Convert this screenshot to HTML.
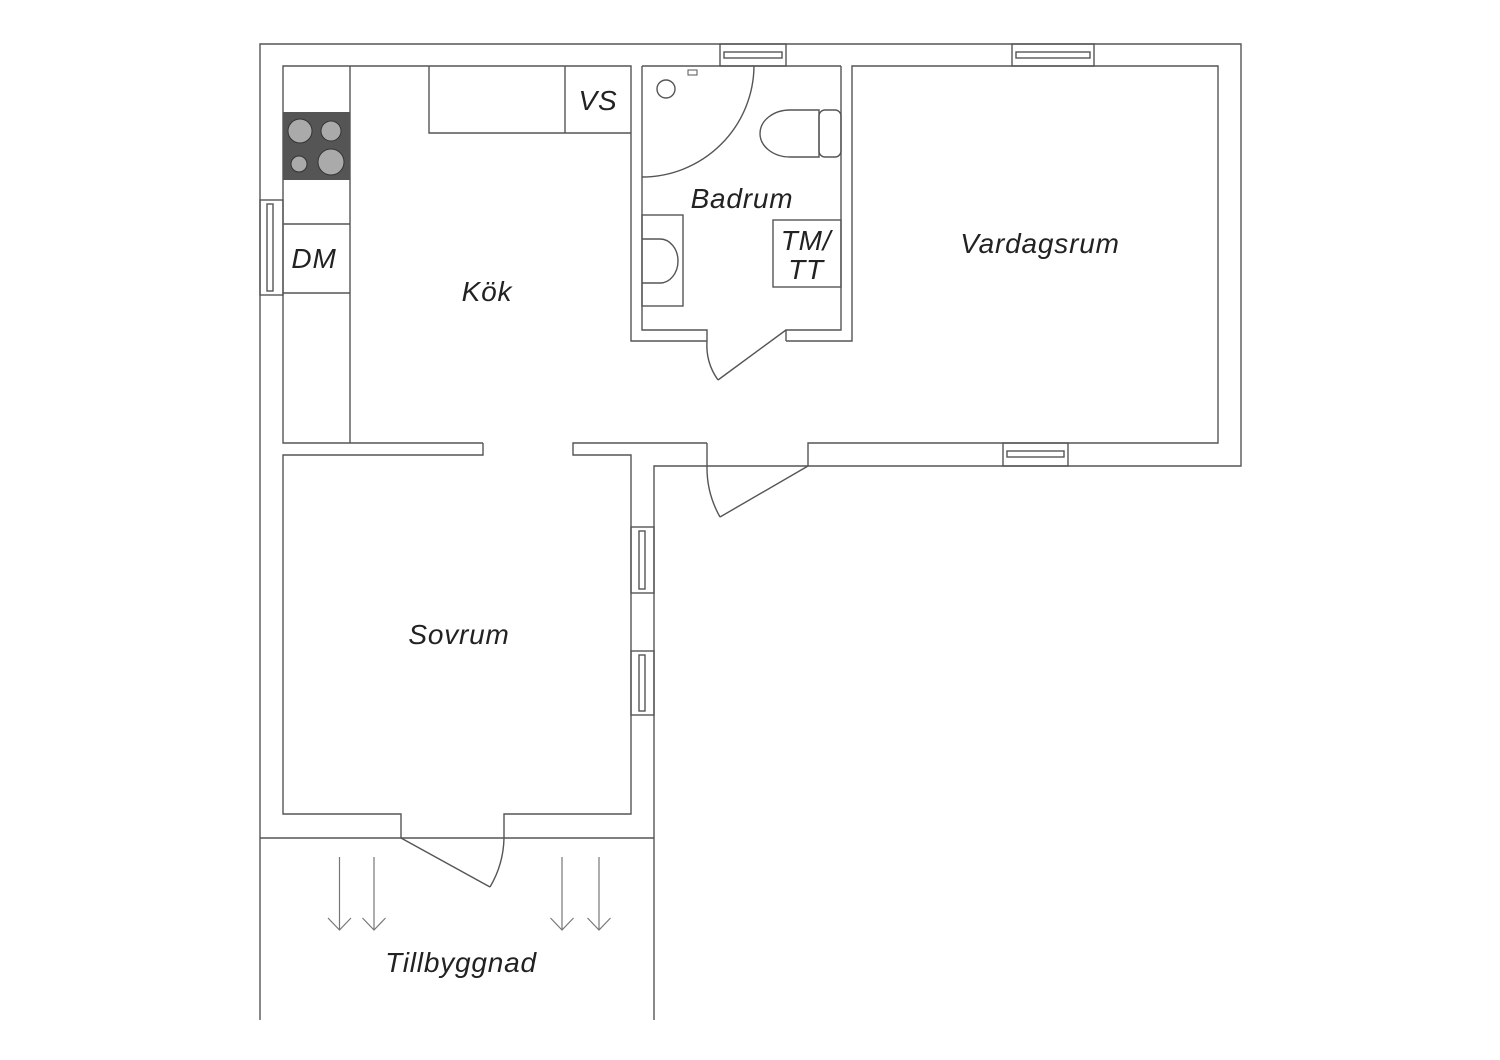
<!DOCTYPE html>
<html><head><meta charset="utf-8">
<style>
html,body{margin:0;padding:0;background:#fff;}
svg{display:block;}
text{font-family:"Liberation Sans",sans-serif;font-style:italic;font-size:28px;letter-spacing:0.8px;fill:#222;text-anchor:middle;}
</style></head><body>
<svg width="1500" height="1060" viewBox="0 0 1500 1060" xmlns="http://www.w3.org/2000/svg">
<g fill="none" stroke="#555" stroke-width="1.4">
<polyline points="260,1020 260,44 1241,44 1241,466 654,466 654,1020"/>
<polyline points="483,443 283,443 283,66 631,66 631,341 707,341"/>
<polyline points="786,341 852,341 852,66 1218,66 1218,443 808,443 808,466"/>
<line x1="642" y1="66" x2="841" y2="66"/>
<line x1="707" y1="443" x2="707" y2="466"/>
<polyline points="707,443 573,443 573,455 631,455 631,814 504,814 504,838"/>
<polyline points="483,443 483,455 283,455 283,814 401,814 401,838"/>
<line x1="260" y1="838" x2="654" y2="838"/>
<polyline points="707,341 707,330 642,330 642,66"/>
<polyline points="786,341 786,330 841,330 841,66"/>
<line x1="350" y1="66" x2="350" y2="443"/>
<line x1="283" y1="224" x2="350" y2="224"/>
<line x1="283" y1="293" x2="350" y2="293"/>
<polyline points="429,66 429,133 631,133"/>
<line x1="565" y1="66" x2="565" y2="133"/>
<path d="M754,66 A112,112 0 0 1 642,177"/>
<circle cx="666" cy="89" r="9"/>
<rect x="688" y="70" width="9" height="5" stroke-width="1"/>
<path d="M819,110 L790,110 A30,23.5 0 0 0 790,157 L819,157 Z"/>
<rect x="819" y="110" width="22" height="47" rx="6"/>
<rect x="642" y="215" width="41" height="91"/>
<path d="M642,239 L660,239 A18,22 0 0 1 660,283 L642,283"/>
<rect x="773" y="220" width="68" height="67"/>
<path d="M786,330 L718,380"/><path d="M707,341 A60,60 0 0 0 718,380"/>
<path d="M808,466 L720,517"/><path d="M707,466 A100,100 0 0 0 720,517"/>
<path d="M401,838 L490,887"/><path d="M504,838 A100,100 0 0 1 490,887"/>
<rect x="720" y="44" width="66" height="22"/><rect x="724" y="52" width="58" height="6"/>
<rect x="1012" y="44" width="82" height="22"/><rect x="1016" y="52" width="74" height="6"/>
<rect x="1003" y="443" width="65" height="23"/><rect x="1007" y="451" width="57" height="6"/>
<rect x="260" y="200" width="23" height="95"/><rect x="267" y="204" width="6" height="87"/>
<rect x="631" y="527" width="23" height="66"/><rect x="639" y="531" width="6" height="58"/>
<rect x="631" y="651" width="23" height="64"/><rect x="639" y="655" width="6" height="56"/>
<g stroke="#777" stroke-width="1.2">
<path d="M339.5,857 V930 M328,918 L339.5,930 L351,918"/>
<path d="M374,857 V930 M362.5,918 L374,930 L385.5,918"/>
<path d="M562,857 V930 M550.5,918 L562,930 L573.5,918"/>
<path d="M599,857 V930 M587.5,918 L599,930 L610.5,918"/>
</g>
</g>
<rect x="283" y="112" width="67" height="68" fill="#555"/>
<g fill="#aaa" stroke="#333" stroke-width="1">
<circle cx="300" cy="131" r="12"/><circle cx="331" cy="131" r="10"/>
<circle cx="299" cy="164" r="8"/><circle cx="331" cy="162" r="13"/>
</g>
<text x="598" y="110">VS</text>
<text x="742" y="208">Badrum</text>
<text x="806" y="250">TM/</text>
<text x="806" y="279">TT</text>
<text x="314" y="268">DM</text>
<text x="487" y="301">Kök</text>
<text x="1040" y="253">Vardagsrum</text>
<text x="459" y="644">Sovrum</text>
<text x="461" y="972">Tillbyggnad</text>
</svg>
</body></html>
